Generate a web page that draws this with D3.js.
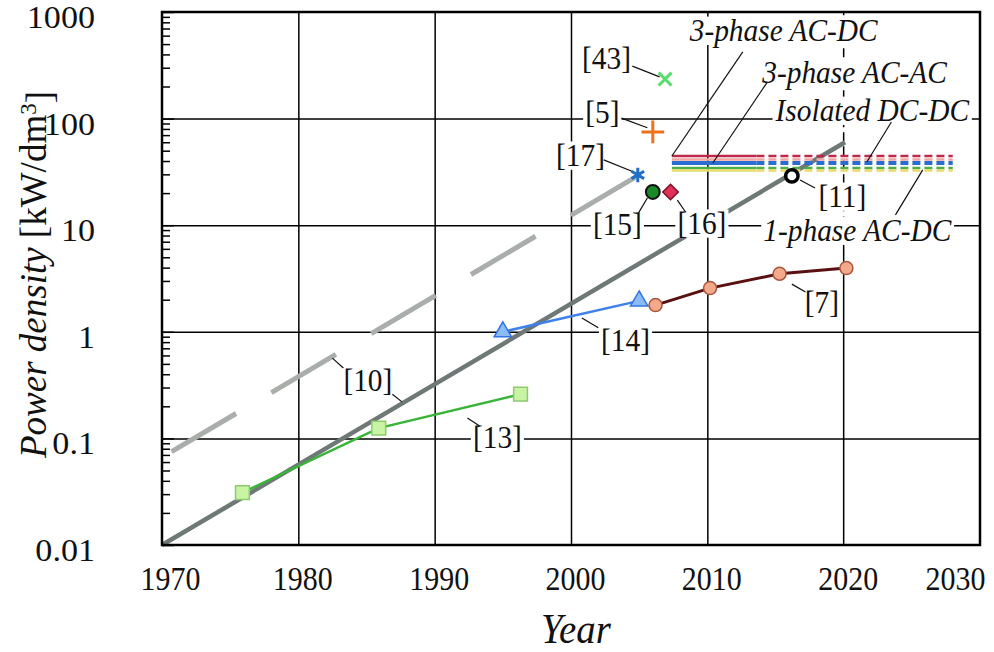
<!DOCTYPE html>
<html>
<head>
<meta charset="utf-8">
<script src="https://cdn.jsdelivr.net/npm/d3@7"></script>
<style>
  body { margin: 0; background: #fff; }
</style>
</head>
<body>
<svg id="chart" width="994" height="652"></svg>
<script>
var SERIF = "'Liberation Serif'";

// trend lines [10]
var trendYears = [1970, 2020.1];
var trendValues = [0.01, 60];
var trendDashYears = [1970.7, 2005.0];
var trendDashValues = [0.075, 29.6];

// [13], [14], [7]
var ref13Years = [1975.9, 1985.9, 1996.3];
var ref13Values = [0.031, 0.125, 0.26];
var ref14Years = [1995.0, 2005.0];
var ref14Values = [1.0, 1.95];
var ref7Years = [2006.2, 2010.2, 2015.3, 2020.2];
var ref7Values = [1.78, 2.57, 3.5, 3.96];

// single points
var pointNames = ["[43]", "[5]", "[17]", "[15]", "[16]", "[11]"];
var pointYears = [2006.9, 2006.0, 2004.9, 2006.0, 2007.3, 2016.2];
var pointValues = [235, 75, 29.6, 20.5, 20.5, 29];

// converter-type targets (solid up to now, dashed projection)
var typeValues = [44.6, 41.3, 38.3, 34.4, 32.6];
var typeColors = ["#c02848", "#f2a4a0", "#2a6fd0", "#4cae4c", "#e8dc6a"];
var typeStart = 2007.4, typeNow = 2013.6, typeEnd = 2028;

var xTicks = [1970, 1980, 1990, 2000, 2010, 2020, 2030];
var yTicks = [0.01, 0.1, 1, 10, 100, 1000];
var yTickLabels = ["0.01", "0.1", "1", "10", "100", "1000"];

// labels: text, year, value, italic
var labels = [
  ["3-phase AC-DC", 2015.6, 676, true],
  ["3-phase AC-AC", 2020.8, 274, true],
  ["Isolated DC-DC", 2022.1, 120, true],
  ["1-phase AC-DC", 2021.0, 9.0, true],
  ["[43]", 2002.6, 370, false],
  ["[5]", 2002.3, 115, false],
  ["[17]", 2000.7, 45.6, false],
  ["[15]", 2003.4, 10.3, false],
  ["[16]", 2009.6, 10.5, false],
  ["[11]", 2019.9, 18.8, false],
  ["[7]", 2018.4, 1.9, false],
  ["[14]", 2004.0, 0.84, false],
  ["[10]", 1985.1, 0.353, false],
  ["[13]", 1994.6, 0.103, false]
];
// leader lines: year1, value1, year2, value2
var leaders = [
  [2004.5, 311, 2006.5, 246],
  [2003.7, 101, 2005.6, 82],
  [2002.4, 41, 2004.6, 31.6],
  [2004.9, 12.7, 2005.6, 18],
  [2007.8, 17.2, 2008.4, 13.3],
  [2016.8, 26.5, 2017.9, 22.3],
  [2016.2, 2.8, 2017.2, 2.36],
  [2000.8, 1.35, 2002.0, 1.09],
  [1982.5, 0.567, 1983.3, 0.457],
  [1986.9, 0.26, 1987.6, 0.22],
  [1992.4, 0.155, 1993.3, 0.131],
  [2012.6, 422, 2007.4, 44.6],
  [2014.4, 220, 2010.4, 38.3],
  [2023.5, 93, 2021.7, 39.2],
  [2025.8, 33, 2023.8, 12.5]
];

var margin = {top: 12, right: 14, bottom: 107, left: 162};
var width = 994 - margin.left - margin.right,
    height = 652 - margin.top - margin.bottom;

var x = d3.scaleLinear().domain([1970, 2030]).range([0, width]);
var y = d3.scaleLog().domain([0.01, 1000]).range([height, 0]);

var svg = d3.select("#chart").append("g")
  .attr("transform", "translate(" + margin.left + "," + margin.top + ")");

function blackLines(g){
  g.select(".domain").remove();
  g.selectAll("line").attr("stroke", "#000").attr("stroke-width", 1.5);
}

//Grid lines
svg.append("g")
  .attr("transform", "translate(0," + height + ")")
  .call(d3.axisBottom(x).tickValues([1980, 1990, 2000, 2010]).tickSize(-height).tickFormat(""))
  .call(blackLines);

svg.append("g")
  .call(d3.axisLeft(y).tickValues([0.1, 1, 10, 100]).tickSize(-width).tickFormat(""))
  .call(blackLines);

// 2020 line: solid below 10, dashed above
svg.append("line")
  .attr("x1", x(2020)).attr("x2", x(2020)).attr("y1", y(0.01)).attr("y2", y(10))
  .style("stroke", "#000").style("stroke-width", 1.5);
svg.append("line")
  .attr("x1", x(2020)).attr("x2", x(2020)).attr("y1", y(10)).attr("y2", y(1000))
  .style("stroke", "#000").style("stroke-width", 1.5).style("stroke-dasharray", "9,5");

//Minor ticks on the left
var minor = [];
[-2, -1, 0, 1, 2].forEach(function(e){
  for (var k = 2; k <= 9; k++) minor.push(k * Math.pow(10, e));
});
svg.append("g")
  .call(d3.axisLeft(y).tickValues(minor).tickSize(-8).tickFormat(""))
  .call(blackLines);
svg.append("g")
  .call(d3.axisLeft(y).tickValues(yTicks).tickSize(-12).tickFormat(""))
  .call(blackLines);

//Line generator
var line = d3.line()
  .x(function(d) { return x(d[0]); })
  .y(function(d) { return y(d[1]); });
function pairs(xs, ys){ return xs.map(function(v, i){ return [v, ys[i]]; }); }

// [10] trends
svg.append("path")
  .datum(pairs(trendDashYears, trendDashValues))
  .attr("d", line).attr("fill", "none")
  .style("stroke", "#a9aeab").style("stroke-width", 5)
  .style("stroke-dasharray", "75,41");
svg.append("path")
  .datum(pairs(trendYears, trendValues))
  .attr("d", line).attr("fill", "none")
  .style("stroke", "#6e7876").style("stroke-width", 4.5);

// converter types
typeValues.forEach(function(v, i){
  svg.append("line")
    .attr("x1", x(typeStart)).attr("x2", x(typeNow)).attr("y1", y(v)).attr("y2", y(v))
    .style("stroke", typeColors[i]).style("stroke-width", i == 2 ? 4 : 2.5);
  svg.append("line")
    .attr("x1", x(typeNow)).attr("x2", x(typeEnd)).attr("y1", y(v)).attr("y2", y(v))
    .style("stroke", typeColors[i]).style("stroke-width", i == 2 ? 4 : 2.5)
    .style("stroke-dasharray", "8,4");
});

// series lines
svg.append("path").datum(pairs(ref13Years, ref13Values))
  .attr("d", line).attr("fill", "none").style("stroke", "#38b538").style("stroke-width", 2.5);
svg.append("path").datum(pairs(ref14Years, ref14Values))
  .attr("d", line).attr("fill", "none").style("stroke", "#3f80ea").style("stroke-width", 2.5);
svg.append("path").datum(pairs(ref7Years, ref7Values))
  .attr("d", line).attr("fill", "none").style("stroke", "#5a1010").style("stroke-width", 3);

//Labels with white background
var labelG = svg.append("g");
labels.forEach(function(l){
  var g = labelG.append("g")
    .attr("transform", "translate(" + x(l[1]) + "," + y(l[2]) + ") scale(1.05,1.12)");
  var t = g.append("text").attr("text-anchor", "middle").attr("dy", "0.35em")
    .style("font-family", SERIF)
    .style("font-size", "28px")
    .style("font-style", l[3] ? "italic" : "normal")
    .style("fill", "#111")
    .text(l[0]);
  var b = t.node().getBBox();
  g.insert("rect", "text")
    .attr("x", b.x - 2).attr("y", b.y + 3).attr("width", b.width + 4).attr("height", b.height - 6)
    .attr("fill", "#fff");
});

// leader lines
leaders.forEach(function(d){
  svg.append("line")
    .attr("x1", x(d[0])).attr("y1", y(d[1])).attr("x2", x(d[2])).attr("y2", y(d[3]))
    .style("stroke", "#111").style("stroke-width", 1.2);
});

// markers
function sym(type, size){ return d3.symbol().type(type).size(size)(); }
svg.selectAll(".m13").data(pairs(ref13Years, ref13Values)).enter().append("path")
  .attr("transform", function(d){ return "translate(" + x(d[0]) + "," + y(d[1]) + ")"; })
  .attr("d", sym(d3.symbolSquare, 190)).attr("fill", "#c8f4a4").attr("stroke", "#8ccc6c").attr("stroke-width", 1.5);
svg.selectAll(".m14").data(pairs(ref14Years, ref14Values)).enter().append("path")
  .attr("transform", function(d){ return "translate(" + x(d[0]) + "," + y(d[1]) + ")"; })
  .attr("d", sym(d3.symbolTriangle, 130)).attr("fill", "#8cbcf6").attr("stroke", "#2f74e0").attr("stroke-width", 1.5);
svg.selectAll(".m7").data(pairs(ref7Years, ref7Values)).enter().append("circle")
  .attr("cx", function(d){ return x(d[0]); }).attr("cy", function(d){ return y(d[1]); })
  .attr("r", 6.5).attr("fill", "#f4a98a").attr("stroke", "#a8563e").attr("stroke-width", 1.5);

var pointStyles = [
  {type: d3.symbolTimes || d3.symbolCross, size: 110, fill: "none", stroke: "#55dd6a", sw: 3, rot: 0},
  {type: d3.symbolPlus || d3.symbolCross, size: 170, fill: "none", stroke: "#f0701c", sw: 3, rot: 0},
  {type: d3.symbolAsterisk || d3.symbolStar, size: 150, fill: "none", stroke: "#1f6ec8", sw: 3, rot: 0},
  {type: d3.symbolCircle, size: 150, fill: "#178a2a", stroke: "#111", sw: 2, rot: 0},
  {type: d3.symbolSquare, size: 120, fill: "#e0305a", stroke: "#7a1020", sw: 1.5, rot: 45},
  {type: d3.symbolCircle, size: 120, fill: "#fff", stroke: "#000", sw: 3.5, rot: 0}
];
pointNames.forEach(function(n, i){
  var s = pointStyles[i];
  svg.append("path")
    .attr("transform", "translate(" + x(pointYears[i]) + "," + y(pointValues[i]) + ") rotate(" + s.rot + ")")
    .attr("d", sym(s.type, s.size))
    .attr("fill", s.fill).attr("stroke", s.stroke).attr("stroke-width", s.sw);
});

//Frame
svg.append("rect").attr("width", width).attr("height", height)
  .attr("fill", "none").attr("stroke", "#000").attr("stroke-width", 2.5);

//Tick labels
var xAx = svg.append("g")
  .attr("transform", "translate(0," + height + ")")
  .call(d3.axisBottom(x).tickValues(xTicks).tickSize(0).tickPadding(18).tickFormat(d3.format("d")));
xAx.select(".domain").remove();
xAx.selectAll("text").style("font-size", "30px").style("font-family", SERIF).style("fill", "#111")
  .attr("transform", "scale(1,1.15)")
  .attr("dx", function(d){ return d == 1970 ? 8 : 4; })
  .filter(function(d){ return d == 2030; }).attr("text-anchor", "end").attr("dx", 5);

var yAx = svg.append("g")
  .call(d3.axisLeft(y).tickValues(yTicks).tickSize(0).tickFormat(""));
yAx.select(".domain").remove();
yAx.selectAll(".tick").append("text")
  .attr("dy", "0.5em").attr("text-anchor", "end")
  .attr("transform", "translate(-67,0) scale(1.1,1)")
  .style("font-size", "31px").style("font-family", SERIF).style("fill", "#111")
  .text(function(d, i){ return yTickLabels[i]; });

//Axis titles
svg.append("text")
  .attr("transform", "translate(" + (width / 2 + 5) + "," + (height + 98) + ") scale(1.05,1.12)")
  .attr("text-anchor", "middle")
  .style("font-family", SERIF).style("fill", "#111")
  .style("font-size", "37px").style("font-style", "italic")
  .text("Year");

var yt = svg.append("text")
  .attr("transform", "translate(" + (-116) + "," + (height / 2 - 4) + ") rotate(-90)")
  .attr("text-anchor", "middle")
  .style("font-family", SERIF).style("fill", "#111")
  .style("font-size", "37px");
yt.append("tspan").style("font-style", "italic").text("Power density ");
yt.append("tspan").text("[kW/dm");
yt.append("tspan").attr("dy", "-0.45em").style("font-size", "23px").text("3");
yt.append("tspan").attr("dy", "0.45em").text("]");
</script>
</body>
</html>
